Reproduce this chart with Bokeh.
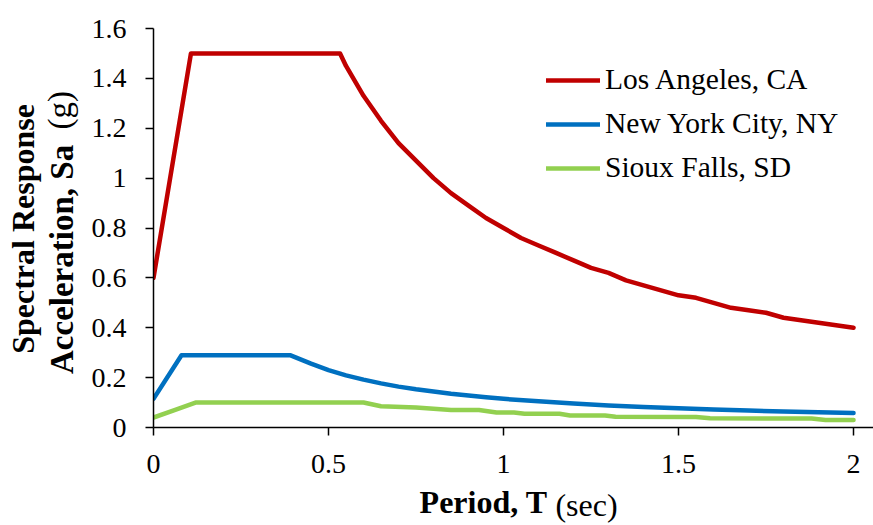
from bokeh.plotting import figure
from bokeh.models import (Range1d, FixedTicker, NumeralTickFormatter, LinearAxis,
                          CustomJSTickFormatter, Legend, LegendItem)
from bokeh.embed import file_html
from bokeh.resources import INLINE

# ---- data ----
la_T = [0, 0.107, 0.533, 0.55, 0.60, 0.65, 0.70, 0.75, 0.80, 0.85, 0.90, 0.95,
        1.00, 1.05, 1.10, 1.15, 1.20, 1.25, 1.30, 1.35, 1.40, 1.45, 1.50, 1.55,
        1.60, 1.65, 1.70, 1.75, 1.80, 1.85, 1.90, 1.95, 2.00]
la_Sa = [0.60, 1.50, 1.50, 1.45, 1.33, 1.23, 1.14, 1.07, 1.00, 0.94, 0.89, 0.84,
         0.80, 0.76, 0.73, 0.70, 0.67, 0.64, 0.62, 0.59, 0.57, 0.55, 0.53, 0.52,
         0.50, 0.48, 0.47, 0.46, 0.44, 0.43, 0.42, 0.41, 0.40]

ny_T = [0, 0.08, 0.39, 0.45, 0.50, 0.55, 0.60, 0.65, 0.70, 0.75, 0.80, 0.85,
        0.90, 0.95, 1.00, 1.10, 1.20, 1.30, 1.40, 1.50, 1.60, 1.70, 1.80, 1.90, 2.00]
ny_Sa = [0.115, 0.29, 0.29, 0.256, 0.230, 0.209, 0.192, 0.177, 0.164, 0.153, 0.144,
         0.135, 0.128, 0.121, 0.115, 0.105, 0.096, 0.088, 0.082, 0.077, 0.072,
         0.068, 0.064, 0.061, 0.058]

sf_T = [0, 0.06, 0.12, 0.60, 0.65, 0.75, 0.85, 0.93, 0.98, 1.03, 1.06, 1.16,
        1.19, 1.29, 1.32, 1.55, 1.59, 1.88, 1.92, 2.00]
sf_Sa = [0.04, 0.07, 0.10, 0.10, 0.085, 0.080, 0.070, 0.070, 0.060, 0.060, 0.055,
         0.055, 0.048, 0.048, 0.043, 0.042, 0.037, 0.036, 0.030, 0.030]

series_names = ["Los Angeles, CA", "New York City, NY", "Sioux Falls, SD"]
series_colors = ["#C00000", "#0070C0", "#92D050"]

x_ticks = [0, 0.5, 1, 1.5, 2]
y_ticks = [0, 0.2, 0.4, 0.6, 0.8, 1.0, 1.2, 1.4, 1.6]

# axis titles: (text, bold?, centre position along the axis)
x_title_parts = [("Period, T", True, 0.943), ("(sec)", False, 1.237)]
y_title_line2 = [("Acceleration, Sa", True, 0.674), ("(g)", False, 1.272)]
y_title_line1 = [("Spectral Response", True, 0.796)]

FONT = "Liberation Serif"

p = figure(width=873, height=525, output_backend="svg", toolbar_location=None,
           x_range=Range1d(0, 2.057), y_range=Range1d(0, 1.6),
           min_border_left=153, min_border_right=0, min_border_top=28,
           min_border_bottom=98)
p.title = None
p.outline_line_color = None
p.xgrid.visible = False
p.ygrid.visible = False

renderers = []
for T, Sa, c in zip([la_T, ny_T, sf_T], [la_Sa, ny_Sa, sf_Sa], series_colors):
    r = p.line(T, Sa, line_color=c, line_width=4.5, line_join="round", line_cap="round")
    renderers.append(r)

for ax in (p.xaxis[0], p.yaxis[0]):
    ax.axis_line_color = "black"
    ax.axis_line_width = 1.5
    ax.major_tick_line_color = "black"
    ax.major_tick_line_width = 1.5
    ax.major_tick_in = 0
    ax.major_tick_out = 8
    ax.minor_tick_line_color = None
    ax.major_label_text_font = FONT
    ax.major_label_text_font_size = "28px"
    ax.major_label_text_color = "black"
    ax.formatter = NumeralTickFormatter(format="0.[0]")

p.xaxis[0].ticker = FixedTicker(ticks=x_ticks)
p.yaxis[0].ticker = FixedTicker(ticks=y_ticks)
p.xaxis[0].major_label_standoff = 19
p.yaxis[0].major_label_standoff = 19


def title_axis(side, text, bold, pos, standoff, size):
    ax = LinearAxis(ticker=FixedTicker(ticks=[pos]),
                    formatter=CustomJSTickFormatter(code="return %r;" % text))
    ax.axis_line_color = None
    ax.major_tick_line_color = None
    ax.minor_tick_line_color = None
    ax.major_tick_in = 0
    ax.major_tick_out = 0
    ax.major_label_standoff = standoff
    ax.major_label_text_font = FONT
    ax.major_label_text_font_size = "%dpx" % size
    ax.major_label_text_font_style = "bold" if bold else "normal"
    ax.major_label_text_color = "black"
    if side == "left":
        ax.major_label_orientation = "vertical"
    p.add_layout(ax, side)
    return ax


# x title: two pieces sharing one row (second one pulled back by one text height)
title_axis("below", x_title_parts[0][0], x_title_parts[0][1], x_title_parts[0][2], 8, 32)
title_axis("below", x_title_parts[1][0], x_title_parts[1][1], x_title_parts[1][2], -36, 32)
# y title, inner line (two pieces sharing one column)
title_axis("left", y_title_line2[0][0], y_title_line2[0][1], y_title_line2[0][2], 8, 33)
title_axis("left", y_title_line2[1][0], y_title_line2[1][1], y_title_line2[1][2], -37, 33)
# y title, outer line
title_axis("left", y_title_line1[0][0], y_title_line1[0][1], y_title_line1[0][2], -2, 32)

legend = Legend(items=[LegendItem(label=n, renderers=[r]) for n, r in zip(series_names, renderers)],
                location=(393, 243), border_line_color=None, background_fill_alpha=0,
                padding=0, margin=0, spacing=11, glyph_width=54, glyph_height=30,
                label_height=30, label_standoff=5, label_text_font=FONT,
                label_text_font_size="29.5px", label_text_color="black")
p.add_layout(legend)

open("out.html", "w").write(file_html(p, INLINE))
